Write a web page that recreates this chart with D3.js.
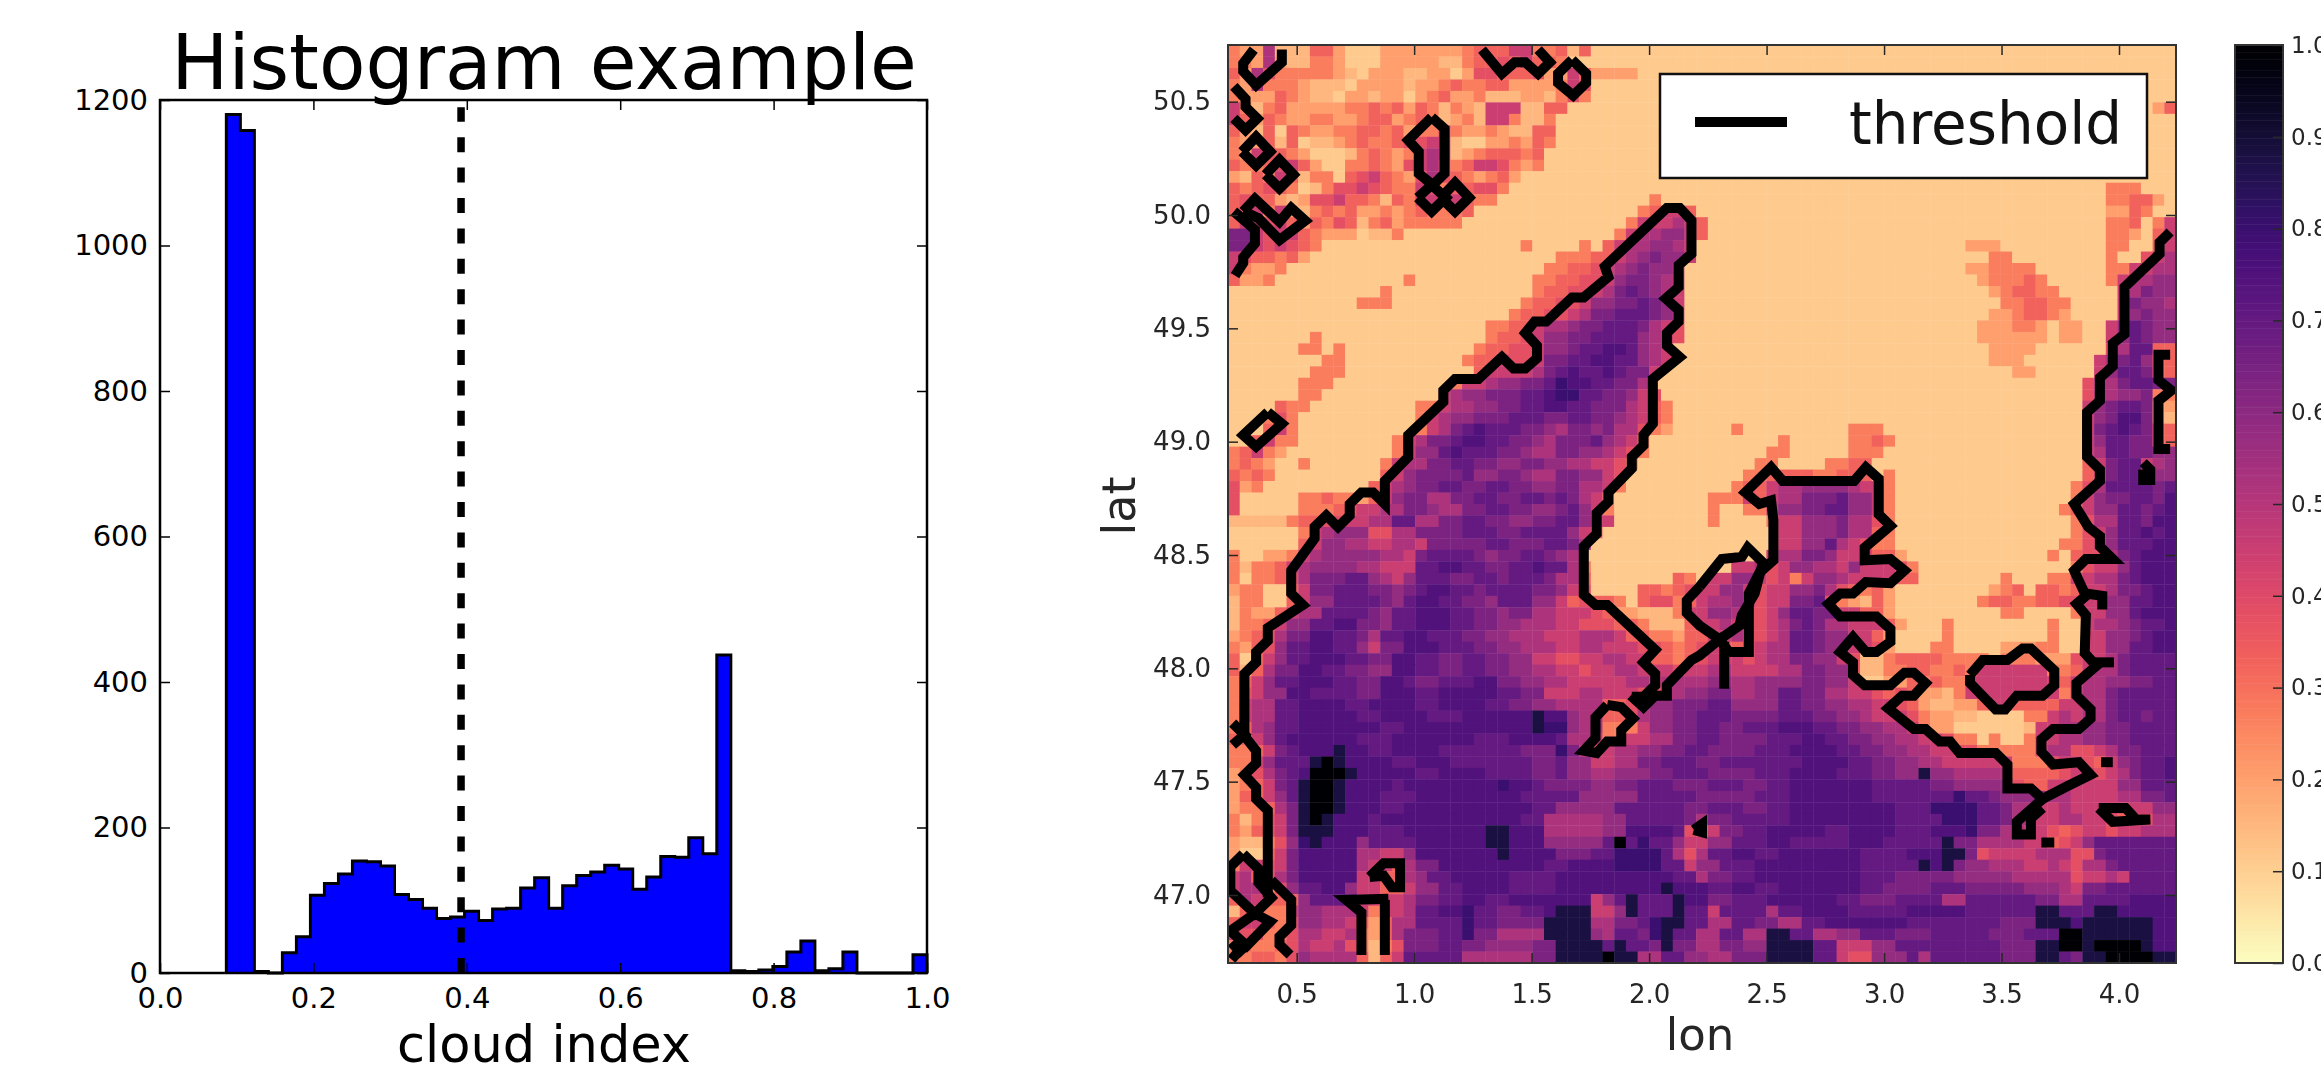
<!DOCTYPE html>
<html><head><meta charset="utf-8">
<script src="https://cdnjs.cloudflare.com/ajax/libs/d3/7.8.5/d3.min.js"></script>
<style>html,body{margin:0;padding:0;background:#fff;overflow:hidden}text{font-family:"DejaVu Sans",sans-serif}</style>
</head><body><svg id="c" width="2321" height="1070"></svg>
<script>
// ---- histogram data
const histStart = 0.0865, histBinWidth = 0.01827;
const histCounts = [1180,1158,2,0,28,50,107,123,136,154,153,147,108,101,89,75,77,85,72,88,89,117,131,89,120,134,139,148,143,115,132,160,159,186,164,437,3,2,4,9,29,44,3,6,29,0,0,0,0,25];
const histThreshold = 0.3925;
const histXTicks = [0,0.2,0.4,0.6,0.8,1.0];
const histYTicks = [0,200,400,600,800,1000,1200];
// ---- map data: level letters (a..o) to cloud index
const levelValues = {a:.11,b:.15,c:.20,d:.27,e:.33,f:.38,g:.45,h:.52,i:.58,j:.64,k:.70,l:.75,m:.80,n:.88,o:1.0};
const lonTicks=[0.5,1,1.5,2,2.5,3,3.5,4], latTicks=[47,47.5,48,48.5,49,49.5,50,50.5], cbarTicks=[0,.1,.2,.3,.4,.5,.6,.7,.8,.9,1];
const lonMin=0.2077, lonMax=4.2426, latMax=50.75, latMin=46.70, nCols=81, nRows=80;
// each row: "<start column><level>" runs
const heatRows = [
"0d 1c 3h 4b 7e 9c 10a 13c 20d 21e 24g 26d 28e 29b 30e 31a",
"0d 2c 3h 4c 5b 7d 9c 10a 13c 18b 20d 21e 23f 24e 25g 26e 28d 29a",
"0e 1c 2h 3f 4d 9c 10b 11a 12c 15b 17c 19a 20c 21f 23e 25e 26f 27c 29g 30e 31c 35a",
"0d 1c 2h 3d 6c 7b 10a 11c 15b 16c 18d 19e 20d 22e 24c 27c 28d 29g 30f 31a",
"0d 1c 3c 4e 5d 6c 7b 9a 10c 12b 13c 15a 16c 17d 18e 19c 21d 22b 25c 27b 28d 29f 30d 31a",
"0g 1d 2b 3d 4e 5c 10d 12e 13d 14e 15c 16e 17d 18b 19d 20c 21b 22g 25b 27e 29a 79c 80e",
"0g 1e 2c 3e 4d 5c 7d 9c 11d 12e 14c 15d 16e 17d 18b 19c 20d 21b 22g 24d 25b 27d 28a",
"0e 1c 2b 3e 4a 5e 6d 7c 9d 11e 13d 14e 15c 16d 18g 19d 20c 22d 23c 24b 26e 28a",
"0d 1c 3e 4b 5e 6a 7b 9c 10d 11e 12d 14e 15f 17g 18g 19b 20a 22c 24d 25c 26e 27d 28a",
"0d 1c 2g 3f 4e 5d 6c 7a 10b 11d 12e 13d 14c 15d 16g 17h 18g 19b 20c 21d 22e 25d 26e 27a",
"0e 1d 3e 4f 5g 6e 7c 8a 10d 12e 13d 14c 15f 16g 17h 18f 19d 20e 21g 23f 24d 25c 26d 27a",
"0c 1b 2e 3d 4g 5e 6b 7d 9a 10e 11f 12g 13e 14d 15c 16f 17h 18f 19e 20d 21c 22d 23e 24c 25a",
"0e 1d 2e 3f 4e 5d 6a 7b 8d 9f 11g 12f 13e 14d 16g 17f 18d 19e 21f 23d 24a 75d 78a",
"0e 1f 2e 4c 5b 6c 7f 9g 10e 12d 13b 14e 15d 16g 17g 18f 19g 20e 21d 23a 36d 37a 75d 77e 79c 80a",
"0e 1f 2g 3d 4g 5c 6b 7d 8e 9d 10e 11c 13d 14c 15d 16e 17d 20e 21a 35d 36e 37g 39e 40a 75c 77e 78d 79a",
"0e 1g 3f 4g 5e 6c 7e 8d 9f 10e 11b 12d 13e 14c 15d 20a 34d 35g 38h 39g 40e 41a 75d 77e 78a 79d 80g",
"0j 2g 3f 4g 6e 7d 8c 11a 12b 14d 15a 33d 34g 35h 37i 39g 40e 41a 75d 77c 78a 79e 80g",
"0j 2g 3f 4g 5f 6e 7d 8a 25d 26a 30d 31a 32e 33g 34h 36i 38h 39g 40a 63c 66a 75d 77a 79e 80g",
"0g 1f 2e 4d 5e 6c 7a 28d 31e 33g 34h 35i 36j 37i 39g 40a 65d 67a 75d 76a 78f 79g 80h",
"0g 1d 2c 4d 5a 27d 29e 31f 32g 33h 34i 35j 36i 38g 39a 63c 65d 69a 75d 77g 78g 79h",
"0e 1c 3d 4a 15d 16a 26d 28e 30f 32g 33i 34j 36i 37h 38g 39a 64c 65d 68e 69d 70a 75d 76g 77h 79i",
"0a 13d 14a 26d 27e 29f 31g 32h 33j 34k 35j 36i 37h 38g 39a 65c 66d 67e 69d 71a 76g 77h 78j 79i",
"0a 11d 14a 25d 26e 28f 30g 31i 33j 35k 36j 37i 38g 39a 66d 68e 70d 72a 76g 77j 78i 80h",
"0a 24d 25e 27f 29g 30h 31j 33k 36j 37i 38g 39a 65c 67d 68e 70d 71c 72a 76g 77i 78j 79i",
"0a 22d 24e 26g 27h 29i 30j 32k 35j 36h 37g 38f 39a 64c 67d 69c 70a 71c 73a 75g 76i 77k 78j 79i",
"0a 7d 8a 22d 23e 25f 26g 27i 29j 31k 35i 36h 37g 38f 39a 64c 69c 70a 71c 73a 75g 76i 77k 78j 79i",
"0a 6d 8a 9d 10a 21d 22e 24f 26g 27i 29j 30k 32l 34k 35i 36h 37g 38a 65c 68c 69a 75f 76h 77k 79e 80e",
"0a 8d 10a 20d 21e 23g 24f 26g 27j 29k 31l 33k 35i 36h 37g 38a 65c 68a 74g 75h 76j 77k 78i 79e 80e",
"0a 7d 10a 21e 22g 26h 27j 28k 29l 30k 32l 33k 34j 36g 37a 67c 69a 74g 75i 76k 78j 79e",
"0a 6d 9a 19d 20g 22h 23i 25j 27k 28m 29l 31k 33j 35h 36a 73f 74h 76j 77k 79j",
"0a 6d 8a 18g 19h 20i 22j 25k 27l 28m 30k 32j 34i 35g 36f 37a 73f 74h 76i 78j 79d 80d",
"0a 4e 5d 7a 16d 18g 19h 21i 23j 25k 27l 29k 31j 34h 35g 36e 37d 38a 73g 74i 75j 76k 78j 79c 80c",
"0a 3d 4f 5d 6a 16d 17g 18h 19i 21j 24k 27j 29k 31j 33i 34h 35g 36e 37d 38a 73g 74i 75j 76l 78j 79c 80b",
"0a 3e 4g 5d 6a 16d 17g 18h 19j 20k 21l 22k 25j 27i 28h 29j 31i 32j 33h 35f 36d 37c 38a 43d 44a 53d 56a 73g 74j 75k 76l 77k 78j 79e 80e",
"0a 2e 3g 4d 6a 14d 15g 16h 17j 19k 20l 22k 24j 26i 27h 28j 31k 32i 33h 34g 35d 36a 47d 48a 53d 55e 56d 57a 73g 74i 75k 77j 79e 80e",
"0d 1e 2g 3d 4c 5a 14d 15g 16i 18k 19l 20k 23j 25i 26h 28j 30i 32h 33g 34f 35d 36a 46d 48a 53d 56a 73g 74h 75k 77j 79i",
"0d 1e 2d 3c 4a 6d 7a 13d 14g 15h 17j 19k 21j 23i 25j 27i 29h 31g 33f 34d 35a 45d 47a 51d 53e 55a 73e 74g 75j 76k 78g 79h 80i",
"0e 1d 2e 3d 4a 13e 14g 15i 16j 18j 20k 21i 23j 25i 26h 28j 30i 32g 33f 34a 44d 46e 50d 52e 55a 56d 57a 73e 74g 75j 76k 78f 79i",
"0f 1c 2d 3a 12e 13g 14h 15i 16j 18k 20j 22k 24j 26i 28j 30h 32g 33d 34a 43d 44e 46g 47h 49i 53h 54g 55g 56d 57a 72d 73f 74h 75k 78k 79j 80k",
"0f 1a 6d 8e 9d 11c 12e 13g 14i 15j 17h 19j 21k 23j 25k 27j 28k 29j 30h 31g 32d 33a 41d 43d 44g 45e 46g 47h 49j 52k 53i 55g 56d 57a 72d 73g 74i 75j 77k 79j 80l",
"0f 1a 6d 9e 10f 11g 13h 15j 17i 18h 20j 22k 24j 26i 28j 29k 30i 31g 32d 33a 41d 42a 44d 46g 47i 49j 51k 53i 55g 56d 57a 71d 72e 73g 74i 76k 78j 79k 80l",
"0b 5d 6e 8f 10g 12h 14k 16h 18j 20k 22j 24i 26j 28k 30i 31g 33a 41d 42a 46d 47g 49i 52j 53h 55f 56d 57a 72d 73f 74h 76k 78j 79l",
"0a 6d 7g 8h 9i 12f 14h 16j 20k 23j 25k 28k 29i 30g 31e 32a 47g 49i 52j 53h 55e 56d 57a 72d 73f 74g 75i 76k 78l 79k 80l",
"0a 6e 7g 8i 10h 12g 14h 16g 17j 20j 22k 24j 26j 27k 29j 30h 31a 47g 49i 51k 52h 53g 54f 55d 57a 71d 73f 74g 75i 76k 79l",
"0d 1a 3c 5d 6g 7h 8i 11i 13h 15g 16j 17k 19k 21j 22i 23j 25k 27j 28i 29h 30a 46g 47h 49j 51i 52g 55e 57c 58a 70d 71a 72e 73f 75h 76j 77k 78l",
"0d 1b 2d 4e 5g 6h 7i 11h 13g 16k 18l 20k 22j 24k 26l 27k 29h 30d 31a 43g 45h 46f 47g 48i 50h 52g 53i 54g 57f 58d 59a 72d 73f 74g 76i 77k 78l",
"0d 1a 2d 4e 5f 6h 7j 10k 12i 13h 14g 15i 16k 19j 21k 23j 24k 27j 28h 30e 31a 38e 39d 40a 41g 43i 45g 46f 47g 48d 49g 50i 52h 53g 57e 59a 66d 67a 70d 72g 74h 76j 77k 78l",
"0c 1d 3a 5e 6g 7j 9k 12j 14i 15j 16k 17l 19k 21j 22k 26j 28i 29g 30f 31a 35e 37d 38e 39f 40g 42i 44g 45f 46g 48i 50j 51h 52f 53e 54d 55e 56c 57a 65c 66d 67e 68a 69e 71d 72e 73g 75h 76j 78k 79l",
"0b 1d 3a 5e 6g 7i 9k 13j 14i 15k 16l 18k 20j 22i 23k 26i 28g 29e 30f 31e 33d 34a 35e 36f 38d 39e 40g 41h 43i 44g 45f 46g 48j 50k 51f 52d 53c 54b 55e 56c 57a 64d 65e 67d 69e 71f 73g 75i 77k 79l",
"0b 1d 2c 4e 5g 6h 8k 12j 13i 14k 16l 19k 21j 23i 24j 26h 28g 31f 32e 33c 35b 38d 39g 41i 43h 44f 46g 47i 48k 50j 52g 54e 56c 57a 66d 68a 72d 73g 75i 77k 78l",
"0b 1d 3e 4g 5i 7k 9l 11j 13i 14k 16l 19k 21j 23i 25h 28g 30f 33e 35d 36b 39e 40g 42h 43g 44f 46g 47h 48j 49k 50j 51h 53g 56e 57c 58a 61d 62a 70d 71a 73g 74h 76i 77j 78k 80l",
"0c 1d 2e 3f 4h 5j 7l 9k 11j 12h 13k 15l 17k 20j 22i 24h 27g 30h 33g 34e 36d 38c 39e 41g 43h 44f 46g 47h 48k 50j 51i 53g 55e 56c 57a 61d 62a 70d 71a 73g 75i 77j 78k 79l",
"0d 1c 2e 3f 4i 5k 7l 9k 11i 12g 13j 15l 18k 21j 23i 25h 28g 30h 32g 35f 37e 38d 39e 40f 41g 42e 44f 45g 46h 48k 50j 51i 53g 55f 56c 57a 60d 62a 66c 69d 71a 73g 75i 77k 79l",
"0e 1a 2e 3g 4i 5k 7l 10k 12j 14l 16k 18j 20k 22j 24i 26g 28f 30g 32h 34g 36e 38d 39e 40f 41g 44f 45g 46h 48j 50i 52g 53f 54b 56d 57e 61d 65a 66d 69c 72f 73g 75h 76j 77k",
"0e 1b 2e 3h 4j 6l 8k 10j 12i 14l 16k 18j 20k 22j 24i 26h 28g 30f 31g 33h 35g 38f 39g 41h 43g 47h 49j 51i 53f 54b 56d 58e 60d 62e 63d 64g 70d 72e 73g 74h 76j 77k",
"0d 1e 2g 3i 4k 6l 9k 11j 13l 15k 16j 18k 21l 23j 25i 27h 29g 34h 36g 37h 41i 43h 45i 49j 51i 53g 54a 56c 58e 59d 60e 61d 63g 71e 72g 73h 75i 77j 79k",
"0d 1f 2g 3i 5l 7k 11j 13l 16k 18l 23k 25j 27g 30h 32g 35f 37h 39i 41j 43h 45i 47k 49j 51h 53g 55f 56e 57f 58e 59c 61b 62d 63g 71d 72g 73h 75j 76k",
"0d 1g 2h 4k 6l 10k 12l 16k 18l 22k 24j 26i 28h 32e 34f 35h 36i 38j 41k 43i 47k 49j 51i 53h 55g 57f 58e 59c 60b 62c 64e 65g 67e 71g 73h 75j 76k",
"0d 1g 2h 4k 6l 11k 13l 17k 20l 26n 27l 29i 30h 32e 34f 35h 36i 38j 40k 43j 47k 50j 52i 54h 55g 58f 59d 60c 62b 64a 68d 70g 71h 72g 73h 75j 76k 78j 79k",
"0d 1e 2h 3i 4k 6l 13k 15l 26n 27m 29i 30h 32d 35g 36i 38j 40k 42j 44k 47l 50k 52j 54i 56h 58g 59d 60c 62a 68b 69g 71h 73i 75j 77k",
"0e 2g 3i 4k 5l 11k 14l 21k 24l 28k 29h 31g 32d 34g 36h 38j 40k 42j 46k 49l 51k 53j 55i 57h 59g 61f 62d 64a 65d 66a 68d 69g 71h 73i 75j 77k",
"0d 2e 3g 4j 5k 6l 9n 10l 12k 14l 18k 25j 28m 29j 30g 31f 32g 33h 35i 37j 39k 41j 45k 48l 52k 54j 56i 58h 60g 62f 64d 69g 70h 72f 74g 75h 76j 78k",
"0d 2g 3i 4k 7n 8o 9n 10l 14k 16l 19k 26j 28k 29i 31g 33h 35j 37k 40j 42k 49l 53k 55j 57i 59h 61g 67d 70f 71g 73f 74e 75g 76i 77j 78k 80l",
"0c 1d 2f 3h 4j 5k 6l 7o 10n 11l 16k 18l 22k 26j 28k 29i 31h 33i 36j 38k 41j 45k 48l 52k 55j 57i 59n 60i 62h 67e 71f 72g 74f 75g 76h 77j 78k 80l",
"0c 1d 2e 3g 4j 5k 6n 7o 9n 10l 14k 15l 23m 24l 26k 27j 31i 33j 35k 38j 41k 44j 46k 48l 55k 60j 62i 67f 68e 70g 76i 78k",
"0c 1e 3g 4i 5k 6n 7o 9n 10l 13k 16l 25k 30i 35k 40j 45k 48l 55k 62m 63k 65j 66i 70h 72g 76h 78j 80k",
"0c 1d 3e 4h 5j 6n 7o 9n 10l 13k 15l 26k 28i 33k 39j 41k 44j 46k 48l 57k 60m 64k 66j 67h 69g 71h 72g 76f 77g 79i",
"0d 1b 2d 3f 4g 5j 6n 7o 8n 9l 12k 13l 25k 27h 32i 34k 39j 40h 41j 43k 48l 57k 61m 64k 66j 67h 69g 71h 73g 75f 76e 78f 79h",
"0d 1c 2e 3f 4g 5j 6n 9l 12k 15l 22n 24l 27h 32i 34l 38k 39f 40e 41g 42j 44k 46l 51k 53l 57k 60l 63m 64j 66h 68g 70f 71e 72f 73g 75f 76g 78h",
"0c 1b 3d 4f 5i 6m 7n 8l 11i 12k 16l 22n 24l 27i 32k 33o 34k 35m 36k 38i 39g 41i 43k 46l 48k 53l 56k 61n 62j 64h 68g 70e 71f 72g 73i 74k",
"0c 1a 3e 4g 5j 6l 11h 13g 15i 16l 23n 24l 28j 31k 33m 37k 38h 39f 40h 41k 43l 45k 47l 54k 58l 61n 63j 64f 65g 69h 72f 74j 75k",
"0d 1g 3f 4g 5j 6l 11h 12g 14e 15h 16j 18l 27k 29l 33m 37k 39g 40i 42k 45l 54k 59n 60l 61n 62j 63i 65h 68g 70h 71g 72f 73h 75j 76k",
"0g 1h 2e 3f 4h 5j 6l 11g 13e 15h 16i 17k 19l 24k 28l 38k 40h 41j 43k 45l 54k 57j 62i 67h 72f 73g 75h 76g 77k",
"0g 1h 3d 4f 5i 6k 8l 10i 11g 13e 15g 16i 18k 20l 24k 28l 37n 38l 41k 43l 45k 47l 54k 56j 60k 63j 68i 71h 72g 73j 75k",
"0e 1h 2g 3e 6i 7k 11g 15h 16j 18k 20l 22k 24l 31g 32i 33k 34n 35k 38n 39l 41j 43k 46l 52k 54j 57k 61h 63k 69j 71h 73k 77l",
"0b 1e 3d 5g 6i 8h 11g 12d 13g 15h 16k 18l 20m 21k 23j 25k 27l 28n 31g 33i 34n 35k 38n 39k 41g 42k 46h 47k 49l 53k 58l 63k 69n 71k 74n 76l",
"0e 1g 3e 4d 5f 6i 8h 10g 11e 12c 13e 14h 16k 20m 21k 23j 27n 31h 33j 35k 36m 37n 39k 41h 43k 45j 47h 49k 51l 58k 66j 69n 72l 73n 79l",
"0g 1f 3d 5f 6h 8g 10h 11d 12c 13e 14h 15j 18k 20m 21j 23h 27n 31i 32h 33k 35j 36m 37n 38k 40h 42k 44h 46n 48k 50h 52i 54k 57j 60k 65j 68k 71o 73n 79l",
"0d 1e 2d 4e 5f 6h 7g 9h 10f 11d 12b 13d 14f 15j 18k 20j 22i 26j 28n 31n 32k 33n 34k 36j 37n 38j 40h 42j 44i 46n 50k 52g 55i 57k 66j 69n 71o 73n 74o 78n 79l",
"0d 2e 4d 5f 6i 7h 11e 12b 13e 14g 15k 20h 26j 28n 32o 33n 35h 37k 39i 41h 43j 46n 50k 52g 53f 55i 58k 59h 60k 66j 69n 71k 72j 73n 75o 79n"
];
// threshold contour, read as "column,row" positions on the map grid
const contourLines = [
"5.3,79.3 4.4,78.4 4.4,77.7 5.4,76.7 5.4,74.5 3.7,72.8",
"3.4,74.3 3.4,66.7 2.4,65.7 2.4,64.7 1.4,63.6 2.4,62.6 2.4,61.5 1.4,60.2 1.4,54.8 2.4,53.8 2.4,52.9 3.4,51.9 3.4,50.8 6.4,48.8 5.4,47.8 5.4,45.8 7.4,43 7.4,42 8.4,41 9.4,42 10.4,41 10.4,40 11.4,39 12.4,39 13.4,40 13.4,38 15.4,35.9 15.4,34 18.4,31.1 18.4,30.1 19.4,29.1 21.4,29.1 23.4,27.2 24.4,28.2 25.4,28.2 26.4,27.3 26.4,26.2 25.4,25.1 26.2,24.1 27.2,24.1 29.4,22 30.4,22 32.5,20.2 32.2,19.3 37.5,14.2 38.6,14.2 39.6,15.3 39.6,18.2 38.5,19.2 38.5,21.1 37.4,22.1 38.5,23.1 38.5,24.1 37.5,25.1 37.5,26.2 38.6,27.2 36.3,29.1 36.3,33 35.5,34 35.5,34.9 34.5,35.9 34.5,36.9 32.5,39 32.5,39.8 31.5,40.8 31.5,42.6 30.4,43.7 30.4,47.9 31.4,48.8 32.4,48.8 36.5,52.7 35.5,53.8 36.5,54.8 36.5,55.8 35.5,56.8 34.5,56.8",
"34.4,56.7 35.5,57.7 36.5,56.7 37.5,56.7 37.5,55.8 39.6,53.6 40.3,53.2 42,51.8 42.8,52.9 44.5,52.9 44.5,47.8 45.4,46 46.6,44.9 46.6,41.4 46.4,39.7 45.4,40 44.2,39 46.4,36.8 47.4,38 53.5,38 54.5,36.8 55.6,37.8 55.6,40.9 56.6,41.9 54.4,43.8 54.4,44.9 56.6,44.8 57.8,45.8 56.6,46.9 54.5,46.8 53.4,47.8 52.3,47.8 51.3,48.7 52.3,49.8 55.4,49.8 56.6,50.9 56.6,52 55.4,52.9 54.5,52.9 53.4,51.6 52.3,52.9 53.4,53.8 53.4,54.9 54.4,55.8 56.6,55.8 57.8,54.7 58.6,54.7 59.6,55.6 58.6,56.7 57.6,56.7 56.4,57.8 58.6,59.6 59.6,59.6 60.8,60.7 61.7,60.7 62.5,61.7 65.6,61.7 66.6,62.7 66.6,64.8 68.6,64.8 69.6,65.7 71.7,64.6 73.7,63.6 72.7,62.5 70.5,62.7 69.5,61.6 69.5,60.5 70.5,59.6 72.7,59.6 73.7,58.7 73.7,57.9 72.5,56.7 72.5,55.6 74.2,54.1 73.2,53 73.3,49.7 72.5,48.7 73.3,48 72.3,45.8 73.3,44.8 75.6,44.8 74.5,43.7 74.5,42.8 73.5,42 72.3,40 74.5,38 74.5,37 73.4,35.9 73.4,32 74.5,31 74.5,29 75.6,28 75.6,26 76.6,25.2 76.6,21.1 79.6,18.2 79.6,17.2 80.5,16.3",
"42.4,52 42.4,56.1",
"74,53.8 75.7,53.8",
"73.3,47.8 74.7,48 74.7,49.2",
"40.3,47.2 42.2,44.8 43.9,44.6 44.4,43.8 45.7,45.1 45,47.8 43.9,49.7 43.7,50.6 42,51.8 40.3,50.6 39.2,49.5 39.2,48.4 40.3,47.2",
"69.6,65.7 67.4,67.7 67.4,68.8 68.6,68.8 68.6,67.4 69.6,66.5",
"80.5,27 79.5,27 79.5,29.2 80.6,30.1 79.5,31 79.5,35.2 80.5,35.2",
"78.2,37 78.5,36.7 78.8,37 78.8,37.9 78.2,37.9 78.2,37",
"63.4,54.9 64.5,53.6 66.6,53.6 67.9,52.6 68.6,52.6 70.6,54.5 70.6,55.8 69.6,56.7 67.4,56.7 66.4,57.9 65.6,57.9 63.4,55.6 63.4,54.9",
"74.6,62.5 75.6,62.5",
"74.4,66.5 76.7,66.5 77.6,67.5 78.8,67.5 75.6,67.7 74.4,66.5",
"69.5,69.5 70.6,69.5",
"39.8,68.4 40.5,67.9 40.5,68.6 39.8,68.4",
"2.2,0.4 1.3,1.6 1.3,2.3 2.4,3.5 4.6,1.5 4.6,0.4",
"0.5,3.6 1.5,4.7 1.5,5.4 2.5,6.4 1.5,7.4 0.5,6.4",
"1.2,9.3 2.4,8 3.6,9.3 2.4,10.5 1.2,9.3",
"3.2,11.3 4.4,10 5.6,11.3 4.4,12.5 3.2,11.3",
"1.3,14.5 2.3,13.4 4.4,15.4 5.4,14.2 6.6,15.3 4.4,17 2.6,15.1 1.3,14.5",
"0.5,14.5 2.3,16.1 2.3,17.3 1.3,18.5 1.3,19 0.6,20.1",
"17.4,6.3 18.5,7.3 18.5,11.2 17.5,12.2 16.3,11.2 16.3,9.3 15.4,8.3 17.4,6.3",
"16.2,13.3 17.4,12.2 18.6,13.3 17.4,14.5 16.2,13.3",
"18.2,13.3 19.4,12 20.6,13.3 19.4,14.5 18.2,13.3",
"21.7,0.4 23.4,2.5 24.5,1.5 25.4,1.5 26.5,2.5 27.5,1.5 26.5,0.4",
"29.4,1.3 30.6,2.5 30.6,3.3 29.5,4.4 28.2,3.3 28.2,2.5 29.4,1.3",
"3.4,32 4.6,33 2.4,35 1.3,34 3.4,32",
"1.3,70.5 2.6,71.8 2.6,73 3.7,74.3 2.3,75.7 0.2,73.7 0.2,71.6 1.3,70.5",
"2.3,75.7 3.6,76.4 1.6,78.5 0.2,77.2 2.3,75.7",
"0.3,78.2 1.3,79.3", "1.3,78.5 0.3,79.7",
"0.4,59.1 1.4,60.1 0.4,61",
"12.1,72.5 13.3,71.3 14.7,71.3 14.7,73.4 14,73.4 13.3,72.4 12.1,72.5",
"11.4,79.3 11.4,75.6 10.1,74.5 13.7,74.4", "13.4,74.5 13.4,79.3",
"32.4,57.5 33.6,57.7 34.6,58.7 33.6,59.7 33.6,60.7 32.4,60.7 31.5,61.7 30.4,61.5 31.4,60.4 31.4,58.6 32.4,57.5"
];

const svg = d3.select("#c");
// ================= histogram
const hx = d3.scaleLinear().domain([0,1]).range([160,927]);
const hy = d3.scaleLinear().domain([0,1200]).range([973,100]);
const H = svg.append("g");
const stepLine = [[histStart,0]];
histCounts.forEach((c,i)=>{stepLine.push([histStart+i*histBinWidth,c]);stepLine.push([histStart+(i+1)*histBinWidth,c]);});
stepLine.push([1,0]);
const hLine = d3.line().x(d=>hx(d[0])).y(d=>hy(d[1]));
H.append("path").attr("d",hLine(stepLine)).attr("fill","#0000ff").attr("stroke","#000").attr("stroke-width",3).attr("stroke-linejoin","miter");
H.append("path").attr("d",hLine([[histThreshold,0],[histThreshold,1190]])).attr("fill","none").attr("stroke","#000").attr("stroke-width",7.5).attr("stroke-dasharray","15 15.4");
function styleAxis(g,fs,col){g.select(".domain").remove();g.selectAll("line").attr("stroke",col||"#000").attr("stroke-width",1.5);g.selectAll("text").attr("font-size",fs).attr("fill",col||"#000").attr("font-family",'"DejaVu Sans"');}
const fmt1=d3.format(".1f");
H.append("g").attr("transform","translate(0,973)").call(d3.axisBottom(hx).tickValues(histXTicks).tickFormat(fmt1).tickSizeInner(-10).tickPadding(14)).call(g=>styleAxis(g,29));
H.append("g").attr("transform","translate(0,100)").call(d3.axisTop(hx).tickValues(histXTicks).tickFormat("").tickSizeInner(-10)).call(g=>styleAxis(g,29));
H.append("g").attr("transform","translate(160,0)").call(d3.axisLeft(hy).tickValues(histYTicks).tickFormat(d3.format("d")).tickSizeInner(-10).tickPadding(12)).call(g=>styleAxis(g,29));
H.append("g").attr("transform","translate(927,0)").call(d3.axisRight(hy).tickValues(histYTicks).tickFormat("").tickSizeInner(-10)).call(g=>styleAxis(g,29));
H.append("rect").attr("x",160).attr("y",100).attr("width",767).attr("height",873).attr("fill","none").attr("stroke","#000").attr("stroke-width",2.5);
H.append("text").attr("x",544).attr("y",89).attr("text-anchor","middle").attr("font-size",76).text("Histogram example");
H.append("text").attr("x",544).attr("y",1062).attr("text-anchor","middle").attr("font-size",51).text("cloud index");

// ================= map
const M = svg.append("g").style("filter","blur(0.7px)");
const mx = d3.scaleLinear().domain([lonMin,lonMax]).range([1228,2176]);
const my = d3.scaleLinear().domain([latMax,latMin]).range([45,963]);
const colLon = c=>lonMin+c*(lonMax-lonMin)/nCols, rowLat = r=>latMax-r*(latMax-latMin)/nRows;
const color = d3.scaleSequential(t=>d3.interpolateMagma(1-t)).domain([0,1]);
const cells=[];
heatRows.forEach((s,r)=>{
  const runs=[...s.matchAll(/(\d+)([a-o])/g)].map(m=>[+m[1],m[2]]);
  runs.forEach((run,i)=>{const end=i+1<runs.length?runs[i+1][0]:nCols;
    for(let c=run[0];c<end;c++)cells.push({c,r,v:levelValues[run[1]]});});
});
M.append("g").selectAll("rect").data(cells).join("rect")
  .attr("x",d=>mx(colLon(d.c))).attr("y",d=>my(rowLat(d.r)))
  .attr("width",d=>mx(colLon(d.c+1))-mx(colLon(d.c))+.4).attr("height",d=>my(rowLat(d.r+1))-my(rowLat(d.r))+.4)
  .attr("fill",d=>color(d.v));
svg.append("clipPath").attr("id","mapclip").append("rect").attr("x",1228).attr("y",45).attr("width",948).attr("height",918);
const cLine=d3.line().x(d=>mx(colLon(d[0]))).y(d=>my(rowLat(d[1])));
M.append("g").attr("clip-path","url(#mapclip)").selectAll("path").data(contourLines.map(s=>s.split(" ").map(p=>p.split(",").map(Number)))).join("path")
  .attr("d",cLine).attr("fill","none").attr("stroke","#000").attr("stroke-width",10).attr("stroke-linejoin","miter").attr("stroke-miterlimit",3);
const tc="#262626";
M.append("g").attr("transform","translate(0,963)").call(d3.axisBottom(mx).tickValues(lonTicks).tickFormat(fmt1).tickSizeInner(-10).tickPadding(22)).call(g=>styleAxis(g,26,tc));
M.append("g").attr("transform","translate(0,45)").call(d3.axisTop(mx).tickValues(lonTicks).tickFormat("").tickSizeInner(-10)).call(g=>styleAxis(g,26,tc));
M.append("g").attr("transform","translate(1228,0)").call(d3.axisLeft(my).tickValues(latTicks).tickFormat(fmt1).tickSizeInner(-10).tickPadding(17)).call(g=>styleAxis(g,26,tc));
M.append("g").attr("transform","translate(2176,0)").call(d3.axisRight(my).tickValues(latTicks).tickFormat("").tickSizeInner(-10)).call(g=>styleAxis(g,26,tc));
M.append("rect").attr("x",1228).attr("y",45).attr("width",948).attr("height",918).attr("fill","none").attr("stroke","#333").attr("stroke-width",2);
M.append("text").attr("x",1700).attr("y",1050).attr("text-anchor","middle").attr("font-size",45).attr("fill",tc).text("lon");
M.append("text").attr("transform","translate(1135,506) rotate(-90)").attr("text-anchor","middle").attr("font-size",46).attr("fill",tc).text("lat");
// legend
M.append("rect").attr("x",1660).attr("y",74).attr("width",487).attr("height",104).attr("fill","#fff").attr("stroke","#111").attr("stroke-width",2.5);
M.append("line").attr("x1",1695).attr("x2",1787).attr("y1",122).attr("y2",122).attr("stroke","#000").attr("stroke-width",10);
M.append("text").attr("x",1849).attr("y",144).attr("font-size",58).attr("fill","#111").text("threshold");
// colour bar
const cbY=d3.scaleLinear().domain([0,1]).range([963,45]);
M.append("g").selectAll("rect").data(d3.range(0,256)).join("rect")
  .attr("x",2235).attr("width",48).attr("y",d=>cbY((d+1)/256)).attr("height",d=>cbY(d/256)-cbY((d+1)/256)+.5).attr("fill",d=>color((d+.5)/256));
M.append("g").attr("transform","translate(2283,0)").call(d3.axisRight(cbY).tickValues(cbarTicks).tickFormat(fmt1).tickSizeInner(-10).tickPadding(8)).call(g=>styleAxis(g,23,tc));
M.append("rect").attr("x",2235).attr("y",45).attr("width",48).attr("height",918).attr("fill","none").attr("stroke","#333").attr("stroke-width",2);
</script></body></html>
